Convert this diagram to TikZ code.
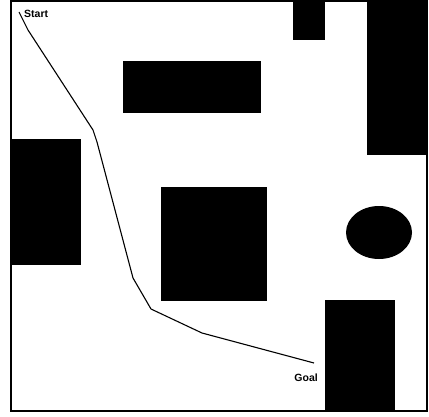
\documentclass[tikz,border=0pt]{standalone}
\usepackage{fontspec}
\setmainfont{Liberation Sans}
\begin{document}
\begin{tikzpicture}[x=1pt,y=-1pt,
  obstacle/.style={fill=black,draw=none},
  route/.style={draw=black,line width=1.1pt,line join=round},
  frame/.style={draw=black,line width=1.2pt},
  lbl/.style={font=\bfseries\fontsize{10.5}{11}\selectfont,inner sep=0pt}]
\useasboundingbox (0,0) rectangle (429,416);
\fill[white] (0,0) rectangle (429,416);
% obstacles
\fill[obstacle] (11,139) rectangle (81,265);
\fill[obstacle] (123,61) rectangle (261,113);
\fill[obstacle] (161,187) rectangle (267,301);
\fill[obstacle] (293,1) rectangle (325,40);
\fill[obstacle] (367,1) rectangle (427,155);
\fill[obstacle] (325,300) rectangle (395,411);
\fill[obstacle] (379,232.5) ellipse [x radius=33, y radius=26.5];
% frame
\draw[frame] (11,1) rectangle (427,411);
% path
\coordinate (p0) at (19,12);
\coordinate (p1) at (28,30);
\coordinate (p2) at (93,130);
\coordinate (p3) at (97,142);
\coordinate (p4) at (133,278);
\coordinate (p5) at (151,309);
\coordinate (p6) at (202,333);
\coordinate (p7) at (314,363);
\draw[route] (p0) -- (p1) -- (p2) -- (p3) -- (p4) -- (p5) -- (p6) -- (p7);
\node[lbl,anchor=west] (start) at (24,13.5) {Start};
\node[lbl,anchor=east] (goal) at (318,377.5) {Goal};
\end{tikzpicture}
\end{document}
